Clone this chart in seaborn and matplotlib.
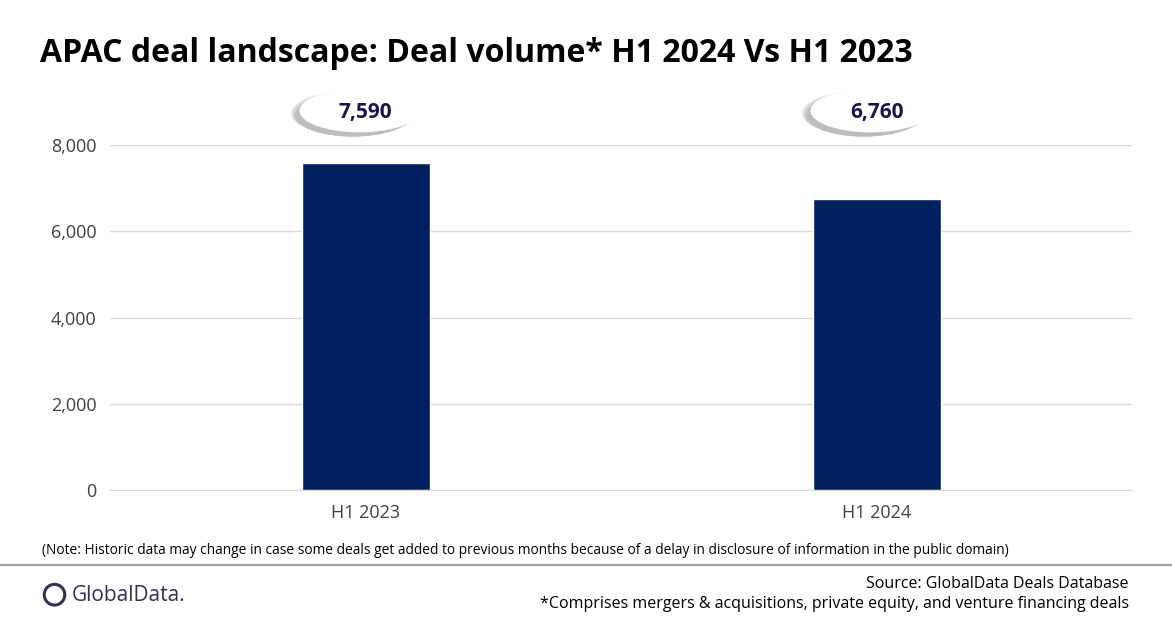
import matplotlib.pyplot as plt
import seaborn as sns
from matplotlib.patches import Ellipse

periods = ['H1 2023', 'H1 2024']
deal_volume = [7590, 6760]
y_ticks = [0, 2000, 4000, 6000, 8000]

sns.set_style('white')
plt.rcParams['font.family'] = ['Open Sans', 'DejaVu Sans']

fig = plt.figure(figsize=(11.72, 6.28), dpi=100)
ax = fig.add_axes([0.094, 0.2197, 0.872, 0.549])
sns.barplot(x=periods, y=deal_volume, color='#002060', width=0.25, saturation=1, ax=ax)
ax.set_xlim(-0.5, 1.5)
ax.set_ylim(0, 8000)
ax.set_yticks(y_ticks)
ax.set_yticklabels([f'{v:,}' for v in y_ticks], fontsize=13, color='#404040')
ax.tick_params(axis='x', labelsize=13, colors='#404040', length=0, pad=10)
ax.tick_params(axis='y', length=0, pad=10)
ax.grid(axis='y', color='#d9d9d9', linewidth=1)
ax.set_axisbelow(True)
for s in ['top', 'right', 'left']:
    ax.spines[s].set_visible(False)
ax.spines['bottom'].set_color('#d9d9d9')
ax.set_xlabel('')
ax.set_ylabel('')

# bubble callouts with soft shadow
for i, v in enumerate(deal_volume):
    for k, c in enumerate(['#e4e4e4', '#cfcfcf', '#bdbdbd']):
        ax.add_patch(Ellipse((i - 0.025, 8740 - 20 * k), 0.242 - 0.008 * k, 1060 - 30 * k,
                             facecolor=c, edgecolor='none', clip_on=False, zorder=3))
    ax.add_patch(Ellipse((i - 0.012, 8800), 0.235, 1000, facecolor='white',
                         edgecolor='none', clip_on=False, zorder=4))
    ax.text(i, 8760, f'{v:,}', ha='center', va='center', fontsize=15,
            fontweight='bold', color='#20124d', zorder=5)

fig.text(0.034, 0.915, 'APAC deal landscape: Deal volume* H1 2024 Vs H1 2023',
         fontsize=23, fontweight='bold', color='black', va='center')
fig.text(0.036, 0.123, '(Note: Historic data may change in case some deals get added to previous months '
         'because of a delay in disclosure of information in the public domain)',
         fontsize=9.9, color='black', va='center')
fig.add_artist(plt.Line2D([0.0, 1.0], [0.1, 0.1], color='#a0a0a0', linewidth=1.5))
fig.text(0.963, 0.07, 'Source: GlobalData Deals Database', ha='right', va='center',
         fontsize=11.5, color='black')
fig.text(0.963, 0.038, '*Comprises mergers & acquisitions, private equity, and venture financing deals',
         ha='right', va='center', fontsize=11.5, color='black')
fig.add_artist(Ellipse((0.0465, 0.053), 0.0175, 0.033, transform=fig.transFigure,
                       fill=False, edgecolor='#3b2a5c', linewidth=2.2, clip_on=False))
fig.text(0.061, 0.052, 'GlobalData.', fontsize=15, color='#3b2a5c', va='center')

fig.savefig('out.png', dpi=100)
